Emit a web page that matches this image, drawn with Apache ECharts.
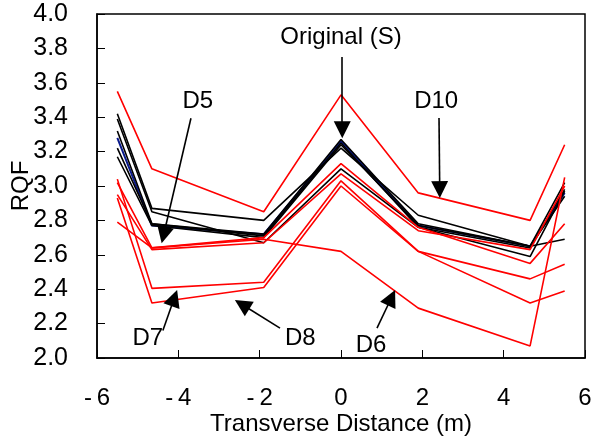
<!DOCTYPE html>
<html><head><meta charset="utf-8">
<script src="https://cdn.jsdelivr.net/npm/echarts@6/dist/echarts.min.js"></script>
<style>html,body{margin:0;padding:0;background:#fff}#c{width:596px;height:437px}</style>
</head><body><div id="c"></div>
<script>
// Transverse positions (m)
const xs = [-5.5, -4.65, -1.9, 0, 1.9, 4.65, 5.5];
// Red (modified) RQF profiles
const redD10 = [3.55, 3.10, 2.85, 3.53, 2.96, 2.80, 3.24];
const redD6  = [2.79, 2.64, 2.69, 2.62, 2.29, 2.07, 3.05];
const redD5a = [3.02, 2.64, 2.70, 3.13, 2.76, 2.55, 2.78];
const redD5b = [2.95, 2.63, 2.67, 3.07, 2.74, 2.63, 3.00];
const redD7  = [3.04, 2.405, 2.44, 3.03, 2.62, 2.46, 2.545];
const redD8  = [2.93, 2.32, 2.41, 3.00, 2.62, 2.32, 2.39];
// Black (original) RQF profiles
const blk1 = [3.42, 2.87, 2.80, 3.22, 2.83, 2.65, 2.69];
const blk2 = [3.39, 2.85, 2.67, 3.10, 2.76, 2.59, 2.97];
const blk3 = [3.32, 2.78, 2.72, 3.27, 2.78, 2.65, 3.02];
const blk4 = [3.22, 2.78, 2.71, 3.25, 2.76, 2.64, 2.98];
const blk5 = [3.17, 2.77, 2.70, 3.24, 2.77, 2.65, 2.94];
const blue1 = [3.28, 2.77, 2.72, 3.26, 2.77, 2.65, 2.96];
// Annotations: label text, label position, arrow start, arrow tip
const annLabels = ['Original (S)', 'D5', 'D10', 'D7', 'D8', 'D6'];
const annTextPos = [[0, 3.866], [-3.52, 3.49], [2.34, 3.49], [-4.75, 2.116], [-1.0, 2.116], [0.74, 2.076]];
const annFrom = [[0.03, 3.75], [-3.69, 3.394], [2.41, 3.395], [-4.38, 2.16], [-1.5, 2.174], [0.885, 2.174]];
const annTo = [[0.03, 3.277], [-4.41, 2.667], [2.43, 2.93], [-4.03, 2.395], [-2.61, 2.337], [1.33, 2.395]];

const FONT = 'Liberation Sans';
function pts(arr) { return xs.map((x, i) => [x, arr[i]]); }
function lineSeries(arr, color, w) {
  return { type: 'line', data: pts(arr), symbol: 'none', silent: true,
    lineStyle: { color: color, width: w }, z: 2 };
}
const series = [];
series.push(lineSeries(blue1, '#0a1a8c', 2));
[blk1, blk2, blk3, blk4, blk5].forEach(a => series.push(lineSeries(a, '#000', 1.6)));
[redD10, redD6, redD5a, redD5b, redD7, redD8].forEach(a => series.push(lineSeries(a, '#ff0000', 1.6)));

const chart = echarts.init(document.getElementById('c'));
const baseOption = {
  animation: false,
  grid: { left: 97, right: 11, top: 14, bottom: 79, show: true, borderColor: '#000', borderWidth: 1.5,
    backgroundColor: 'transparent', outerBoundsMode: 'none', containLabel: false },
  xAxis: { type: 'value', min: -6, max: 6, interval: 2,
    axisLine: { show: true, onZero: false, lineStyle: { color: '#000', width: 1.5 } },
    axisTick: { show: true, inside: true, length: 8, lineStyle: { color: '#000' } },
    splitLine: { show: false },
    axisLabel: { color: '#000', fontFamily: FONT, fontSize: 24, margin: 28, formatter: v => String(v).replace('-', '-\u2009') },
    name: 'Transverse Distance (m)', nameLocation: 'middle', nameGap: 54, nameMoveOverlap: false,
    nameTextStyle: { color: '#000', fontFamily: FONT, fontSize: 24 } },
  yAxis: { type: 'value', min: 2, max: 4, interval: 0.2,
    axisLine: { show: true, onZero: false, lineStyle: { color: '#000', width: 1.5 } },
    axisTick: { show: true, inside: true, length: 8, lineStyle: { color: '#000' } },
    splitLine: { show: false },
    axisLabel: { color: '#000', fontFamily: FONT, fontSize: 25, margin: 29, formatter: v => v.toFixed(1) },
    name: 'RQF', nameLocation: 'middle', nameGap: 64, nameRotate: 90, nameMoveOverlap: false,
    nameTextStyle: { color: '#000', fontFamily: FONT, fontSize: 24 } },
  series: series
};
chart.setOption(baseOption);

// Arrows: end point pulled back by half the triangle so its tip lands on the target
const ARROW = 17;
const arrowData = annFrom.map((f, i) => {
  const p0 = chart.convertToPixel({ gridIndex: 0 }, f);
  const p1 = chart.convertToPixel({ gridIndex: 0 }, annTo[i]);
  const dx = p1[0] - p0[0], dy = p1[1] - p0[1];
  const L = Math.sqrt(dx * dx + dy * dy);
  const e = [p1[0] - dx / L * ARROW / 2, p1[1] - dy / L * ARROW / 2];
  return { coords: [f, chart.convertFromPixel({ gridIndex: 0 }, e)] };
});
chart.setOption({ series: series.concat([
  { type: 'lines', coordinateSystem: 'cartesian2d', silent: true, z: 5,
    symbol: ['none', 'triangle'], symbolSize: [1, ARROW],
    lineStyle: { color: '#000', width: 1.6, opacity: 1 },
    itemStyle: { color: '#000' },
    data: arrowData },
  { type: 'scatter', silent: true, z: 6, symbolSize: 0,
    itemStyle: { color: 'transparent', opacity: 1 },
    data: annTextPos.map((p, i) => ({ value: p, name: annLabels[i] })),
    label: { show: true, position: 'inside', formatter: p => p.name, opacity: 1,
      color: '#000', textBorderWidth: 0, textBorderColor: 'transparent',
      fontFamily: FONT, fontSize: 24 } }
]) });
</script></body></html>
